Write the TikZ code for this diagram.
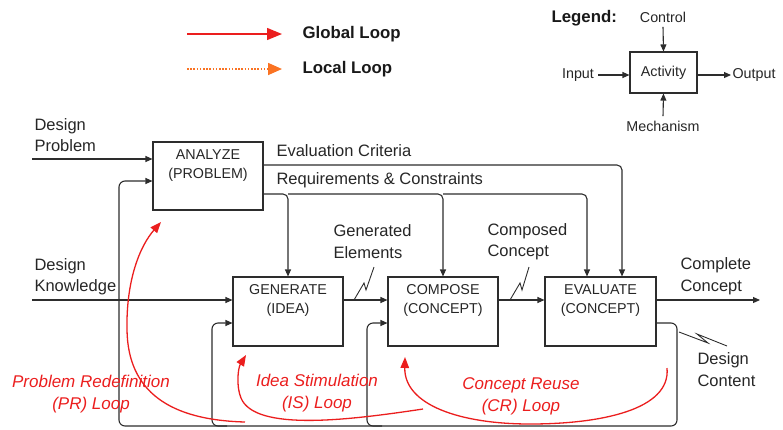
\documentclass[tikz,border=0pt]{standalone}
\usepackage{fontspec}
\setmainfont{Liberation Sans}
\usetikzlibrary{arrows.meta,calc}
\definecolor{ln}{RGB}{45,45,45}
\definecolor{loopred}{RGB}{235,30,30}
\definecolor{looporange}{RGB}{250,115,35}
\begin{document}
\begin{tikzpicture}[x=1pt,y=-1pt,
  line width=1.1pt,
  actbox/.style={draw=ln, line width=1.1pt, minimum width=110pt, minimum height=69pt, inner sep=0},
  boxtxt/.style={font=\fontsize{14.3}{19}\selectfont, align=center, inner sep=0, anchor=north, text=black!85},
  lbl/.style={font=\fontsize{16.5}{21.5}\selectfont, align=left, inner sep=0, text=black!85, anchor=west},
  small/.style={font=\fontsize{14.3}{18}\selectfont, inner sep=0, text=black!85},
  redlbl/.style={font=\fontsize{17}{22}\selectfont\itshape, align=center, inner sep=0, text=loopred},
  leglbl/.style={font=\fontsize{16.8}{20}\selectfont\bfseries, inner sep=0, anchor=west, text=black!90},
  conn/.style={draw=ln, line width=1.1pt},
  arr/.style={conn, -{Triangle[length=7pt,width=6pt]}},
  redarr/.style={draw=loopred, line width=1.3pt, -{Triangle[length=11pt,width=8.5pt]}},
  zig/.style={draw=ln, line width=0.9pt}
]
\useasboundingbox (0,0) rectangle (783,429);

% ---------- legend (loops) ----------
\coordinate (glA) at (187,34);
\coordinate (glB) at (282,34);
\coordinate (llA) at (187,69);
\coordinate (llB) at (282,69);
\draw[draw=loopred, line width=1.4pt, -{Triangle[length=15pt,width=12pt]}] (glA) -- (glB);
\draw[draw=looporange, line width=1.6pt, dash pattern=on 1.6pt off 1.6pt, -{Triangle[length=14pt,width=12pt]}] (llA) -- (llB);
\node[leglbl] (glt) at (302,34) {Global Loop};
\node[leglbl] (llt) at (302,69) {Local Loop};

% ---------- legend (activity) ----------
\node[leglbl] (legt) at (551,18) {Legend:};
\node[draw=ln, line width=1.1pt, minimum width=67pt, minimum height=41pt, inner sep=0, small] (act) at (663.5,72.5) {Activity};
\node[small] (ctl) at (663,17) {Control};
\node[small] (inp) at (578,75) {Input};
\node[small, anchor=west] (outp) at (732,75) {Output};
\node[small] (mech) at (663,126) {Mechanism};
\draw[arr] ($(ctl.south)+(0,4)$) -- (act.north);
\draw[arr] ($(inp.east)+(4,0)$) -- (inp.east -| act.west);
\draw[arr] (act.east |- outp) -- ($(outp.west)+(-1,0)$);
\draw[arr] ($(mech.north)+(0,-4)$) -- (act.south);

% ---------- activity boxes ----------
\node[actbox, minimum height=68pt] (an) at (208,176) {};
\node[actbox] (ge) at (288,311.5) {};
\node[actbox] (co) at (443,311.5) {};
\node[actbox, minimum width=111pt] (ev) at (600.5,311.5) {};
\node[boxtxt] (antx) at ($(an.north)+(0,8)$) {ANALYZE\\(PROBLEM)};
\node[boxtxt] (getx) at ($(ge.north)+(0,8)$) {GENERATE\\(IDEA)};
\node[boxtxt] (cotx) at ($(co.north)+(0,8)$) {COMPOSE\\(CONCEPT)};
\node[boxtxt] (evtx) at ($(ev.north)+(0,8)$) {EVALUATE\\(CONCEPT)};

% ---------- labels ----------
\node[lbl] (dp) at (34,135) {Design\\Problem};
\node[lbl] (dk) at (34,276.5) {Design\\Knowledge};
\node[lbl] (ecl) at (276,151) {Evaluation Criteria};
\node[lbl] (rcl) at (276,180) {Requirements \& Constraints};
\node[lbl] (gel) at (333,241.5) {Generated\\Elements};
\node[lbl] (cpl) at (487,241.5) {Composed\\Concept};
\node[lbl] (ccl) at (680,276) {Complete\\Concept};
\node[lbl] (dcl) at (697,369.5) {Design\\Content};

% ---------- helper coordinates ----------
\coordinate (yEC) at (0,165);
\coordinate (yRC) at (0,194);
\coordinate (yIn) at (0,300);
\coordinate (yFb) at (0,323);
\coordinate (yAn) at (0,181);
\coordinate (yBot) at (0,426);
\coordinate (xEC) at (622,0);
\coordinate (xRE) at (587,0);
\coordinate (xFA) at (119,0);
\coordinate (xFG) at (212,0);
\coordinate (xFC) at (367,0);
\coordinate (xFR) at (677,0);
\coordinate (dpin) at (32,159);
\coordinate (dkin) at (32,300);
\coordinate (cout) at (760,300);

% ---------- connectors ----------
\draw[arr] (dpin) -- (dpin -| an.west);
\draw[arr, rounded corners=5pt] (an.east |- yEC) -- (xEC |- yEC) -- (xEC |- ev.north);
\draw[arr, rounded corners=5pt] (an.east |- yRC) -- (ge.north |- yRC) -- (ge.north);
\draw[arr, rounded corners=5pt] (ge.north |- yRC) -- (co.north |- yRC) -- (co.north);
\draw[arr, rounded corners=5pt] (co.north |- yRC) -- (xRE |- yRC) -- (xRE |- ev.north);
\draw[arr] (dkin) -- (ge.west |- yIn);
\draw[arr] (ge.east |- yIn) -- (co.west |- yIn);
\draw[arr] (co.east |- yIn) -- (ev.west |- yIn);
\draw[arr] (ev.east |- yIn) -- (cout);
\draw[arr, rounded corners=6pt] (ev.east |- yFb) -- (xFR |- yFb) -- (xFR |- yBot) -- (xFA |- yBot) -- (xFA |- yAn) -- (an.west |- yAn);
\draw[arr, rounded corners=6pt] ($(xFG |- yBot)+(15,0)$) -- (xFG |- yBot) -- (xFG |- yFb) -- (ge.west |- yFb);
\draw[arr, rounded corners=6pt] ($(xFC |- yBot)+(15,0)$) -- (xFC |- yBot) -- (xFC |- yFb) -- (co.west |- yFb);

% ---------- zig leaders ----------
\coordinate (z1a) at (354,300);
\coordinate (z1b) at (364,283);
\coordinate (z1c) at (366,290);
\coordinate (z1d) at (374,267);
\draw[zig] (z1a) -- (z1b) -- (z1c) -- (z1d);
\coordinate (z2a) at (510,300);
\coordinate (z2b) at (520,283);
\coordinate (z2c) at (522,290);
\coordinate (z2d) at (529,267);
\draw[zig] (z2a) -- (z2b) -- (z2c) -- (z2d);
\coordinate (z3a) at (679,332);
\coordinate (z3b) at (708,343);
\coordinate (z3c) at (697,334);
\coordinate (z3d) at (727,346);
\draw[zig] (z3a) -- (z3b) -- (z3c) -- (z3d);

% ---------- red loops ----------
\coordinate (prS) at (245,422);
\coordinate (prM) at (127,330);
\coordinate (prE) at (161,222);
\draw[redarr] (prS) .. controls (170,420) and (128,392) .. (prM) .. controls (126,280) and (140,246) .. (prE);
\coordinate (isS) at (423,409);
\coordinate (isM) at (241,398);
\coordinate (isE) at (246,355);
\draw[redarr] (isS) .. controls (350,420) and (255,432) .. (isM) .. controls (236,386) and (238,368) .. (isE);
\coordinate (crS) at (667,368);
\coordinate (crM) at (530,424);
\coordinate (crE) at (405,357);
\draw[redarr] (crS) .. controls (671,410) and (600,424) .. (crM) .. controls (460,424) and (404,405) .. (crE);

\node[redlbl] (prl) at (91,394) {Problem Redefinition\\(PR) Loop};
\node[redlbl] (isl) at (317,393) {Idea Stimulation\\(IS) Loop};
\node[redlbl] (crl) at (521,396) {Concept Reuse\\(CR) Loop};
\end{tikzpicture}
\end{document}
